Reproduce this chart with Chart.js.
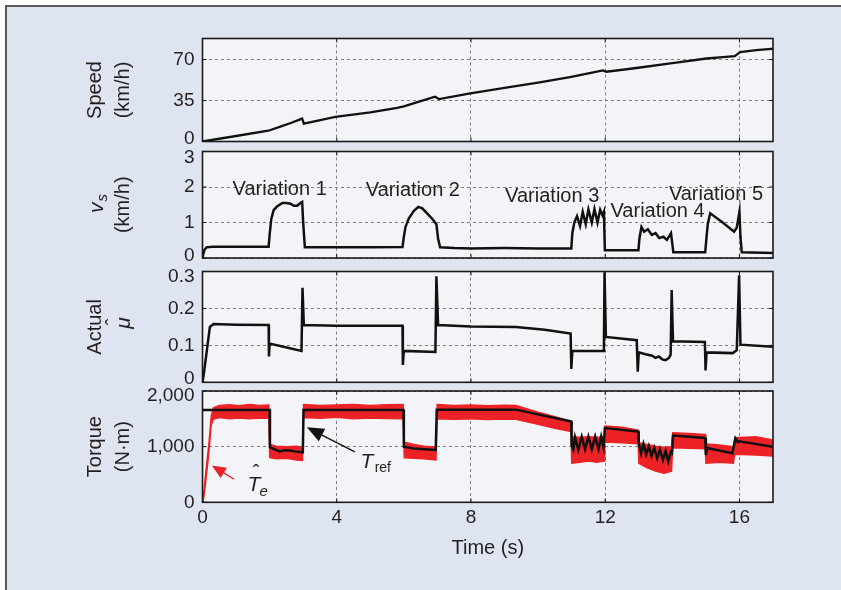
<!DOCTYPE html>
<html>
<head>
<meta charset="utf-8">
<script src="https://cdn.jsdelivr.net/npm/chart.js@4.4.1/dist/chart.umd.min.js"></script>
<style>
html,body{margin:0;padding:0;background:#fff;}
#wrap{position:relative;width:841px;height:590px;overflow:hidden;background:#fff;}
#frame{position:absolute;left:5px;top:5px;width:840px;height:590px;background:#dfe4f1;border-left:2px solid #5a5a5a;border-top:2px solid #5a5a5a;}
canvas{position:absolute;left:0;top:0;}
</style>
</head>
<body>
<div id="wrap">
  <div id="frame"></div>
  <canvas id="cSpeed" width="841" height="590"></canvas>
  <canvas id="cSlip" width="841" height="590"></canvas>
  <canvas id="cMu" width="841" height="590"></canvas>
  <canvas id="cTorque" width="841" height="590"></canvas>
</div>
<script>
// ---------------- DATA ----------------
const timeTicks = [0, 4, 8, 12, 16];
const speedTicks = [0, 35, 70];
const slipTicks = [0, 1, 2, 3];
const muTicks = [0, 0.1, 0.2, 0.3];
const torqueTicks = [0, 1000, 2000];

// [time s, speed km/h]
const speedTrace = [
  [0,0],[1.0,4.7],[1.96,9.2],[2.3,12.5],[2.65,16.0],[2.97,19.6],[3.02,15.3],[3.96,21.0],
  [5.0,24.8],[5.8,28.8],[6.0,30.0],[6.5,34.5],[6.93,38.3],[7.05,36.2],[7.98,41.2],
  [9.0,45.8],[10.0,50.3],[10.95,55.0],[11.5,58.2],[11.93,60.8],[12.04,59.6],[12.93,62.8],
  [14.0,66.9],[15.02,70.9],[15.5,72.0],[15.86,72.9],[16.02,76.3],[16.5,78.0],[16.95,79.2],[17.0,79.3]
];

// [time s, v_s km/h]
const slipTrace = [
  [0,0],[0.05,0.22],[0.12,0.3],[0.3,0.32],[1.0,0.32],[1.97,0.32],[2.0,0.65],[2.05,1.1],
  [2.12,1.35],[2.22,1.45],[2.38,1.55],[2.5,1.55],[2.62,1.53],[2.72,1.47],[2.82,1.47],
  [2.92,1.55],[2.97,1.58],[3.0,1.0],[3.05,0.3],[4.0,0.3],[5.0,0.3],[5.96,0.31],[6.0,0.6],
  [6.05,0.88],[6.15,1.12],[6.3,1.33],[6.43,1.44],[6.55,1.4],[6.7,1.25],[6.85,1.1],[6.97,0.95],
  [7.02,0.55],[7.08,0.3],[7.5,0.28],[8.0,0.27],[9.0,0.28],[10.0,0.27],[10.99,0.27],
  [11.02,0.7],[11.08,1.0],[11.16,1.18],[11.25,0.9],[11.33,1.3],[11.42,0.95],[11.5,1.37],
  [11.6,1.0],[11.68,1.38],[11.77,1.0],[11.85,1.36],[11.92,1.2],[11.96,1.3],[11.99,0.22],
  [12.5,0.22],[12.99,0.22],[13.02,0.55],[13.08,0.87],[13.16,0.74],[13.27,0.81],[13.39,0.65],
  [13.5,0.7],[13.61,0.56],[13.73,0.6],[13.84,0.51],[13.96,0.7],[14.0,0.4],[14.03,0.16],
  [14.5,0.16],[14.98,0.16],[15.02,0.6],[15.06,0.98],[15.13,1.26],[15.5,1.0],[15.84,0.74],
  [15.92,0.85],[16.0,1.3],[16.03,0.6],[16.07,0.16],[17.0,0.14]
];

// [time s, estimated friction coefficient]
const muTrace = [
  [0,0],[0.05,0.03],[0.22,0.15],[0.33,0.158],[1.0,0.156],[1.97,0.155],[1.98,0.07],[2.0,0.105],
  [2.95,0.085],[2.98,0.256],[3.02,0.155],[4.0,0.153],[5.96,0.153],[5.97,0.047],[6.0,0.085],
  [6.94,0.082],[6.97,0.287],[7.02,0.155],[8.0,0.151],[9.34,0.15],[10.2,0.142],[10.97,0.132],
  [10.99,0.036],[11.02,0.085],[11.96,0.085],[11.98,0.298],[12.02,0.123],[12.94,0.114],
  [12.97,0.029],[13.0,0.081],[13.2,0.076],[13.4,0.072],[13.5,0.066],[13.6,0.07],[13.7,0.062],
  [13.8,0.06],[13.9,0.066],[13.95,0.075],[13.98,0.25],[14.02,0.111],[14.97,0.109],
  [14.99,0.032],[15.02,0.081],[15.8,0.079],[15.92,0.087],[15.99,0.29],[16.03,0.102],[17.0,0.096]
];

// [time s, reference torque N·m]
const trefTrace = [
  [0,1660],[2.0,1660],[2.01,990],[2.15,950],[2.3,915],[2.45,935],[2.6,930],[2.75,915],
  [2.95,900],[2.99,900],[3.01,1660],[5.99,1660],[6.0,1000],[6.3,965],[6.95,942],[6.98,1665],
  [9.34,1665],[10.99,1452],[11.0,1020],[11.05,945],[11.1,1170],[11.2,945],[11.3,1180],
  [11.4,950],[11.5,1180],[11.6,950],[11.7,1180],[11.8,955],[11.88,1180],[11.95,990],
  [11.99,1335],[12.98,1272],[13.0,1060],[13.07,880],[13.14,1050],[13.22,860],[13.3,1010],
  [13.38,830],[13.46,980],[13.55,790],[13.63,950],[13.72,760],[13.8,920],[13.88,735],
  [13.95,900],[13.99,880],[14.02,1200],[14.98,1155],[15.0,850],[15.04,975],[15.79,883],
  [15.88,1150],[15.95,1080],[16.0,1095],[16.05,1090],[17.0,1000]
];

// [time s, lower edge, upper edge] of the estimated torque band (N·m)
const teEnvelope = [
  [0,0,0],[0.04,80,200],[0.1,380,560],[0.19,880,1060],[0.26,1380,1560],[0.32,1490,1700],
  [0.5,1520,1740],[0.8,1500,1755],[1.1,1515,1735],[1.4,1500,1760],[1.7,1515,1740],[1.98,1510,1750],
  [2.0,800,1040],[2.2,780,1010],[2.5,790,1000],[2.8,760,1010],[2.98,750,990],
  [3.01,1520,1760],[3.5,1510,1740],[4.0,1525,1750],[4.5,1500,1760],[5.0,1515,1740],
  [5.5,1505,1755],[5.98,1500,1760],
  [6.01,800,1080],[6.3,790,1040],[6.6,780,1010],[6.96,760,990],
  [6.99,1500,1760],[7.5,1490,1740],[8.0,1500,1750],[8.5,1485,1735],[9.0,1495,1745],[9.34,1490,1740],
  [10.0,1400,1620],[10.5,1330,1540],[10.98,1270,1460],
  [11.0,700,1180],[11.25,720,1170],[11.5,740,1180],[11.75,720,1170],[11.97,740,1180],
  [11.99,1080,1370],[12.5,1070,1350],[12.98,1050,1300],
  [13.0,700,1070],[13.25,620,1040],[13.5,560,1010],[13.75,520,990],[13.98,560,1000],
  [14.01,980,1250],[14.5,970,1240],[14.98,960,1220],
  [15.0,700,1050],[15.4,720,1030],[15.82,700,1000],
  [15.86,860,1160],[16.5,850,1180],[17.0,830,1120]
];

const variationNames = ['Variation 1','Variation 2','Variation 3','Variation 4','Variation 5'];

// ---------------- STYLE / LAYOUT ----------------
const FONT_FAMILY = '"Liberation Sans", Arial, Helvetica, sans-serif';
const TXT = '#231f20';
const PLOT_BG = '#f3f4f7';
const RED = '#ec2227';
const BLACK = '#111111';
const GRID = '#7d7d7d';
const PLOT_LEFT = 202.5, PLOT_RIGHT = 773;
const PANELS = [
  {top:38.5, bottom:141.5, nudgeTop:0, nudgeBottom:-3},
  {top:151.5, bottom:258, nudgeTop:6.5, nudgeBottom:-2},
  {top:271.5, bottom:382.3, nudgeTop:5, nudgeBottom:-4},
  {top:391, bottom:502.3, nudgeTop:5, nudgeBottom:0}
];
const X_AXIS_BOX_BOTTOM = 560;

function toXY(arr, col){ return arr.map(r => ({x:r[0], y:r[col||1]})); }

function setFont(ctx, size, italic){ ctx.font = (italic ? 'italic ' : '') + size + 'px ' + FONT_FAMILY; }

function drawArrow(ctx, x0, y0, x1, y1, color, headLen, headW, lw){
  const a = Math.atan2(y1 - y0, x1 - x0);
  const bx = x1 - headLen * Math.cos(a), by = y1 - headLen * Math.sin(a);
  ctx.strokeStyle = color; ctx.fillStyle = color; ctx.lineWidth = lw;
  ctx.beginPath(); ctx.moveTo(x0, y0); ctx.lineTo(bx, by); ctx.stroke();
  ctx.beginPath();
  ctx.moveTo(x1, y1);
  ctx.lineTo(bx + headW/2 * Math.sin(a), by - headW/2 * Math.cos(a));
  ctx.lineTo(bx - headW/2 * Math.sin(a), by + headW/2 * Math.cos(a));
  ctx.closePath(); ctx.fill();
}

const framePlugin = {
  id: 'framePlugin',
  beforeDraw(chart, args, opts){
    const {ctx, chartArea:a} = chart;
    // keep the end tick labels inside their own panel, as in the reference
    const ys = chart.scales.y;
    const items = ys.getLabelItems(a);
    items.forEach((it, i) => {
      const t = ys.ticks[i];
      if (!t) return;
      if (Math.abs(t.value - ys.max) < 1e-9) it.options.translation[1] += opts.nudgeTop || 0;
      else if (Math.abs(t.value - ys.min) < 1e-9) it.options.translation[1] += opts.nudgeBottom || 0;
    });
    ctx.save();
    ctx.fillStyle = PLOT_BG;
    ctx.fillRect(a.left, a.top, a.right - a.left, a.bottom - a.top);
    ctx.restore();
  },
  afterDatasetsDraw(chart){
    const {ctx, chartArea:a, scales} = chart;
    ctx.save();
    ctx.strokeStyle = '#1a1a1a';
    ctx.lineWidth = 1;
    ctx.beginPath();
    scales.x.ticks.forEach(t => {
      const p = scales.x.getPixelForValue(t.value);
      ctx.moveTo(p, a.bottom); ctx.lineTo(p, a.bottom - 4);
      ctx.moveTo(p, a.top); ctx.lineTo(p, a.top + 4);
    });
    scales.y.ticks.forEach(t => {
      const p = scales.y.getPixelForValue(t.value);
      ctx.moveTo(a.left, p); ctx.lineTo(a.left + 4, p);
      ctx.moveTo(a.right, p); ctx.lineTo(a.right - 4, p);
    });
    ctx.stroke();
    ctx.lineWidth = 1.6;
    ctx.strokeRect(a.left, a.top, a.right - a.left, a.bottom - a.top);
    ctx.restore();
  }
};

function makeChart(id, panelIdx, datasets, yCfg, extraPlugins){
  const panel = PANELS[panelIdx];
  const isBottom = panelIdx === PANELS.length - 1;
  const tickFont = {family: FONT_FAMILY, size: 19};
  return new Chart(document.getElementById(id), {
    type: 'line',
    data: {datasets: datasets},
    options: {
      responsive: false,
      animation: false,
      events: [],
      locale: 'en-US',
      layout: {padding: {left: 0, right: 841 - PLOT_RIGHT, top: panel.top,
               bottom: isBottom ? 590 - X_AXIS_BOX_BOTTOM : 590 - panel.bottom}},
      plugins: {legend: {display: false}, tooltip: {enabled: false},
                framePlugin: {nudgeTop: panel.nudgeTop, nudgeBottom: panel.nudgeBottom}},
      elements: {point: {radius: 0}, line: {tension: 0}},
      scales: {
        x: {
          type: 'linear', min: 0, max: 17,
          afterBuildTicks(s){ s.ticks = timeTicks.map(v => ({value: v})); },
          ticks: {display: isBottom, padding: 4, color: TXT, font: tickFont, maxRotation: 0},
          grid: {color: GRID, lineWidth: 1, drawTicks: false},
          border: {display: false, dash: [3, 3]},
          title: {display: isBottom, text: 'Time (s)', color: TXT,
                  font: {family: FONT_FAMILY, size: 20, lineHeight: 1.2}, padding: {top: 0, bottom: 0}},
          afterFit(s){ s.height = isBottom ? X_AXIS_BOX_BOTTOM - panel.bottom : 0; }
        },
        y: {
          type: 'linear', min: yCfg.min, max: yCfg.max,
          afterBuildTicks(s){ s.ticks = yCfg.ticks.map(v => ({value: v})); },
          ticks: {padding: 8, color: TXT, font: tickFont, callback: yCfg.fmt},
          grid: {color: GRID, lineWidth: 1, drawTicks: false},
          border: {display: false, dash: [3, 3]},
          title: {display: true, text: yCfg.title, color: TXT,
                  font: {family: FONT_FAMILY, size: 20, lineHeight: 1.4}, padding: {top: 81, bottom: 0}},
          afterFit(s){ s.width = PLOT_LEFT; }
        }
      }
    },
    plugins: [framePlugin].concat(extraPlugins || [])
  });
}

const fmtThousands = v => Number(v).toLocaleString('en-US');
const fmtPlain = v => String(Math.round(v * 100) / 100);

// ---------- Panel 1: speed ----------
makeChart('cSpeed', 0, [
  {data: toXY(speedTrace), borderColor: BLACK, borderWidth: 2.3, fill: false}
], {min: 0, max: 88, ticks: speedTicks, fmt: fmtPlain, title: ['Speed', '(km/h)']});

// ---------- Panel 2: slip speed ----------
const slipNotes = {
  id: 'slipNotes',
  afterDatasetsDraw(chart){
    const {ctx, scales:{x, y}, chartArea:a} = chart;
    const spots = [[2.3, 1.93], [6.27, 1.89], [10.42, 1.72], [13.56, 1.3], [15.3, 1.8]];
    ctx.save();
    setFont(ctx, 20, false);
    ctx.fillStyle = TXT; ctx.textAlign = 'center'; ctx.textBaseline = 'middle';
    variationNames.forEach((n, i) => ctx.fillText(n, x.getPixelForValue(spots[i][0]), y.getPixelForValue(spots[i][1])));
    // italic v_s axis title (first title line)
    const cx = 97, cy = (a.top + a.bottom) / 2;
    ctx.translate(cx, cy); ctx.rotate(-Math.PI / 2);
    setFont(ctx, 21, true);
    ctx.textAlign = 'left'; ctx.textBaseline = 'middle';
    const wv = ctx.measureText('v').width;
    ctx.fillText('v', -wv / 2 - 3, 0);
    setFont(ctx, 15, true);
    ctx.fillText('s', wv / 2 - 2, 6);
    ctx.restore();
  }
};
makeChart('cSlip', 1, [
  {data: toXY(slipTrace), borderColor: BLACK, borderWidth: 2.5, fill: false}
], {min: 0, max: 3, ticks: slipTicks, fmt: fmtPlain, title: ['', '(km/h)']}, [slipNotes]);

// ---------- Panel 3: friction coefficient ----------
const muTitle = {
  id: 'muTitle',
  afterDraw(chart){
    const {ctx, chartArea:a} = chart;
    const cx = 124, cy = (a.top + a.bottom) / 2 - 4;
    ctx.save();
    ctx.translate(cx, cy); ctx.rotate(-Math.PI / 2);
    ctx.fillStyle = TXT; ctx.textAlign = 'center'; ctx.textBaseline = 'middle';
    setFont(ctx, 21, true);
    ctx.fillText('\u03BC', 0, 0);
    setFont(ctx, 20, false);
    ctx.fillText('\u02C6', 1, -10);
    ctx.restore();
  }
};
makeChart('cMu', 2, [
  {data: toXY(muTrace), borderColor: BLACK, borderWidth: 2.5, fill: false}
], {min: 0, max: 0.3, ticks: muTicks, fmt: fmtPlain, title: ['Actual']}, [muTitle]);

// ---------- Panel 4: torque ----------
const torqueNotes = {
  id: 'torqueNotes',
  afterDatasetsDraw(chart){
    const {ctx, scales:{x, y}} = chart;
    const px = t => x.getPixelForValue(t), py = v => y.getPixelForValue(v);
    ctx.save();
    // T_ref arrow and label
    drawArrow(ctx, px(4.54), py(906), px(3.11), py(1348), BLACK, 17, 14, 1.4);
    ctx.fillStyle = TXT; ctx.textBaseline = 'middle'; ctx.textAlign = 'center';
    setFont(ctx, 21, true);
    ctx.fillText('T', px(4.9), py(723));
    setFont(ctx, 14, false);
    ctx.textAlign = 'left';
    ctx.fillText('ref', px(5.13), py(612));
    // estimated torque arrow and label
    drawArrow(ctx, px(0.94), py(414), px(0.28), py(663), RED, 14, 12, 1.4);
    ctx.fillStyle = TXT; ctx.textAlign = 'center';
    setFont(ctx, 21, true);
    ctx.fillText('T', px(1.53), py(312));
    setFont(ctx, 20, false);
    ctx.fillText('\u02C6', px(1.6), py(515));
    setFont(ctx, 15, true);
    ctx.fillText('e', px(1.82), py(190));
    ctx.restore();
  }
};
makeChart('cTorque', 3, [
  {data: toXY(trefTrace), borderColor: BLACK, borderWidth: 2.5, fill: false},
  {data: toXY(teEnvelope, 2), borderColor: RED, borderWidth: 1.3, fill: false},
  {data: toXY(teEnvelope, 1), borderColor: RED, borderWidth: 1.3, fill: '-1', backgroundColor: RED}
], {min: 0, max: 2000, ticks: torqueTicks, fmt: fmtThousands, title: ['Torque', '(N\u00B7m)']}, [torqueNotes]);
</script>
</body>
</html>
